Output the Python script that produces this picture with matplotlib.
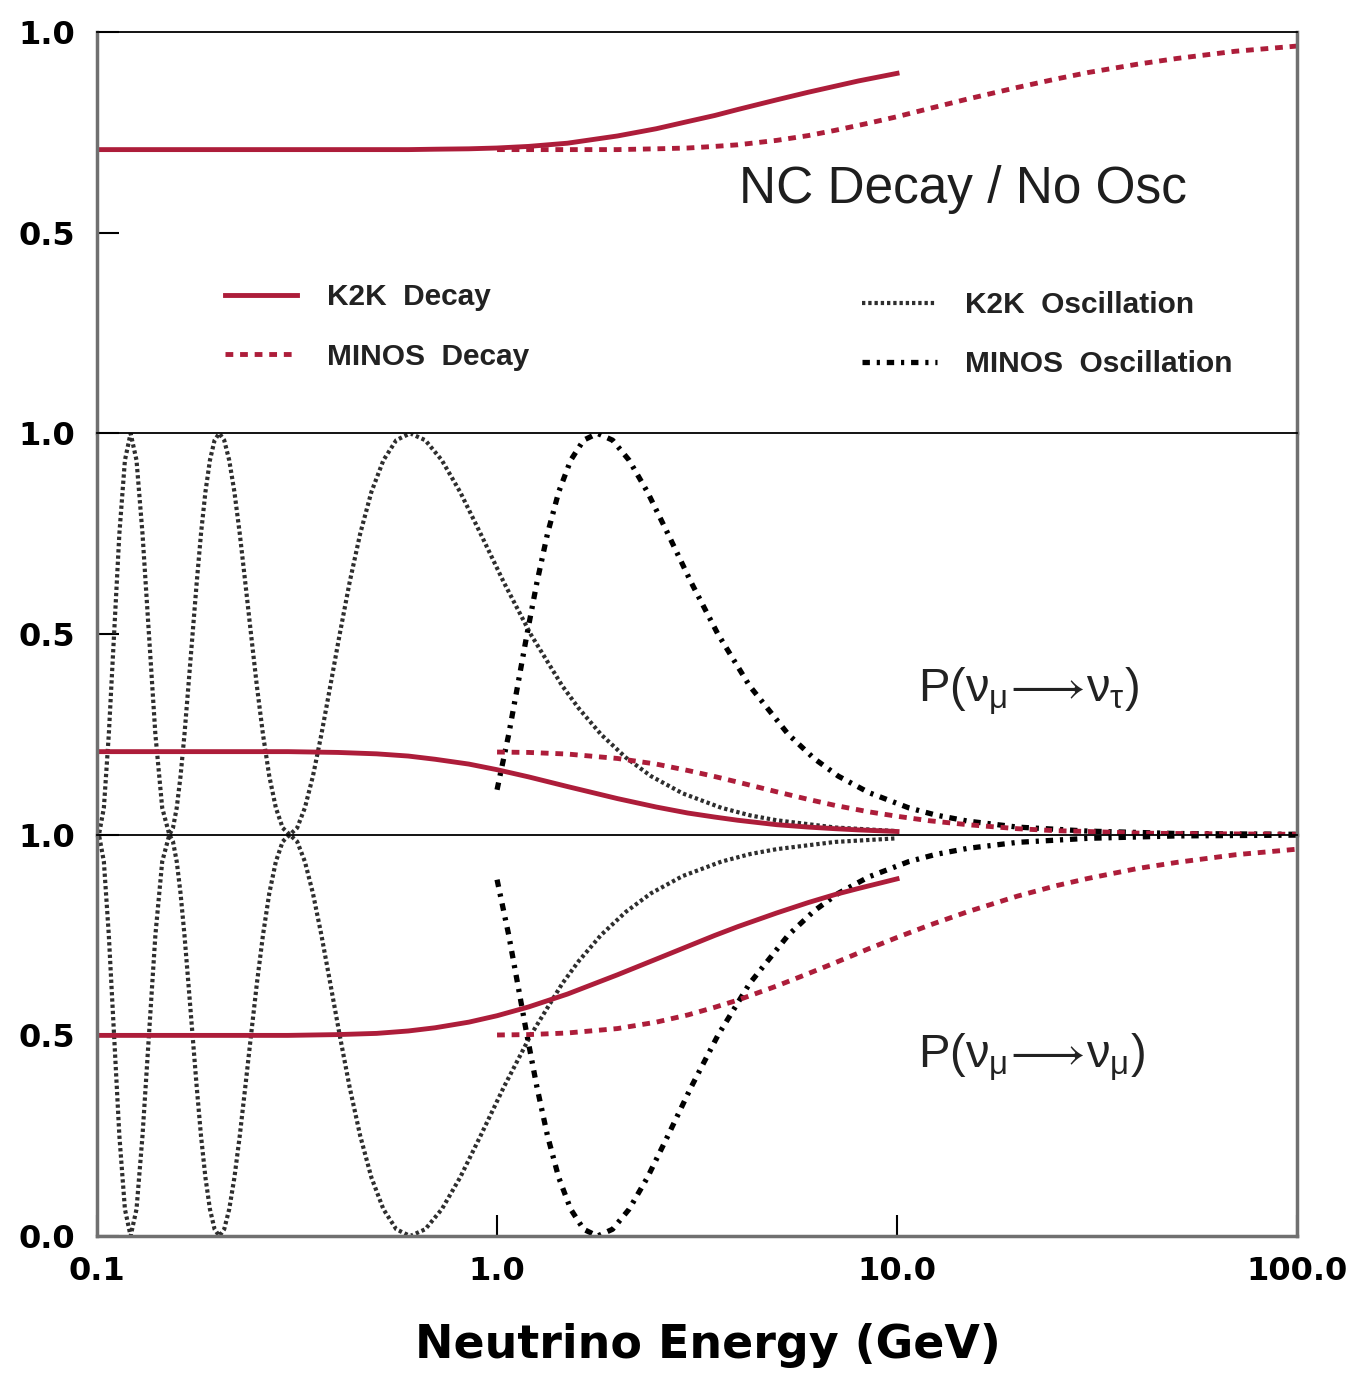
import numpy as np
import matplotlib
matplotlib.use('Agg')
import matplotlib.pyplot as plt
import matplotlib.ticker as ticker
from matplotlib.lines import Line2D

# K2K oscillation (E in GeV)
k2k_osc_e = [0.1000, 0.1011, 0.1040, 0.1070, 0.1103, 0.1137, 0.1174, 0.1213, 0.1255, 0.1299,
             0.1348, 0.1399, 0.1455, 0.1516, 0.1548, 0.1582, 0.1617, 0.1654, 0.1692, 0.1733,
             0.1775, 0.1819, 0.1866, 0.1915, 0.1967, 0.2021, 0.2079, 0.2140, 0.2205, 0.2274,
             0.2347, 0.2426, 0.2509, 0.2599, 0.2695, 0.2799, 0.2911, 0.3032, 0.3164, 0.3308,
             0.3465, 0.3638, 0.3830, 0.4043, 0.4280, 0.4548, 0.4851, 0.5198, 0.5597, 0.6064,
             0.6615, 0.7277, 0.8085, 0.9096, 1.0395, 1.2128, 1.4553, 1.6000, 1.8192, 2.1000,
             2.4255, 2.9106, 3.6383, 4.3000, 5.0, 7.0, 10.0]
k2k_osc_tau = [0.010, 0.000, 0.067, 0.250, 0.500, 0.750, 0.933, 1.000, 0.933, 0.750,
               0.500, 0.250, 0.067, 0.000, 0.017, 0.067, 0.146, 0.250, 0.371, 0.500,
               0.629, 0.750, 0.854, 0.933, 0.983, 1.000, 0.983, 0.933, 0.854, 0.750,
               0.629, 0.500, 0.371, 0.250, 0.146, 0.067, 0.017, 0.000, 0.017, 0.067,
               0.146, 0.250, 0.371, 0.500, 0.629, 0.750, 0.854, 0.933, 0.983, 1.000,
               0.983, 0.933, 0.854, 0.750, 0.629, 0.500, 0.371, 0.315, 0.250, 0.192,
               0.146, 0.103, 0.067, 0.048, 0.036, 0.018, 0.009]
k2k_osc_mu = [0.990, 1.000, 0.933, 0.750, 0.500, 0.250, 0.067, 0.000, 0.067, 0.250,
              0.500, 0.750, 0.933, 1.000, 0.983, 0.933, 0.854, 0.750, 0.629, 0.500,
              0.371, 0.250, 0.146, 0.067, 0.017, 0.000, 0.017, 0.067, 0.146, 0.250,
              0.371, 0.500, 0.629, 0.750, 0.854, 0.933, 0.983, 1.000, 0.983, 0.933,
              0.854, 0.750, 0.629, 0.500, 0.371, 0.250, 0.146, 0.067, 0.017, 0.000,
              0.017, 0.067, 0.146, 0.250, 0.371, 0.500, 0.629, 0.685, 0.750, 0.808,
              0.854, 0.897, 0.933, 0.952, 0.964, 0.982, 0.991]

# MINOS oscillation
minos_osc_e = [1.000, 1.0695, 1.1258, 1.1883, 1.2582, 1.3369, 1.4260, 1.5279, 1.6454, 1.7825,
               1.9445, 2.139, 2.3767, 2.6738, 3.0557, 3.565, 4.278, 5.3475, 6.2, 7.13, 8.5,
               10.695, 12.5, 15.0, 20.0, 30.0, 50.0, 100.0]
minos_osc_tau = [0.112, 0.250, 0.371, 0.500, 0.629, 0.750, 0.854, 0.933, 0.983, 1.000,
                 0.983, 0.933, 0.854, 0.750, 0.629, 0.500, 0.371, 0.250, 0.190, 0.146, 0.105,
                 0.067, 0.049, 0.034, 0.019, 0.009, 0.003, 0.001]
minos_osc_mu = [0.888, 0.750, 0.629, 0.500, 0.371, 0.250, 0.146, 0.067, 0.017, 0.000,
                0.017, 0.067, 0.146, 0.250, 0.371, 0.500, 0.629, 0.750, 0.810, 0.854, 0.895,
                0.933, 0.951, 0.966, 0.981, 0.991, 0.997, 0.999]

# K2K decay
k2k_dec_e = [0.1, 0.2, 0.3, 0.4, 0.5, 0.6, 0.7, 0.85, 1.0, 1.2, 1.5, 2.0, 2.5, 3.0, 3.5,
             4.0, 5.0, 6.0, 7.0, 8.0, 10.0]
k2k_dec_nc = [0.707, 0.707, 0.707, 0.707, 0.707, 0.707, 0.708, 0.709, 0.711, 0.715, 0.723,
              0.741, 0.759, 0.777, 0.792, 0.807, 0.831, 0.850, 0.865, 0.878, 0.897]
k2k_dec_tau = [0.207, 0.207, 0.207, 0.205, 0.2015, 0.196, 0.188, 0.176, 0.162, 0.144, 0.120,
               0.090, 0.069, 0.054, 0.044, 0.036, 0.025, 0.019, 0.015, 0.012, 0.008]
k2k_dec_mu = [0.500, 0.500, 0.500, 0.502, 0.505, 0.511, 0.519, 0.533, 0.549, 0.571, 0.603,
              0.651, 0.690, 0.722, 0.749, 0.771, 0.805, 0.831, 0.851, 0.866, 0.890]

# MINOS decay
minos_dec_e = [1.0, 1.2, 1.5, 2.0, 2.5, 3.0, 3.5, 4.0, 5.0, 6.0, 7.0, 8.5, 10.0, 12.0, 15.0,
               20.0, 25.0, 30.0, 40.0, 50.0, 70.0, 100.0]
minos_dec_nc = [0.707, 0.707, 0.707, 0.707, 0.709, 0.711, 0.715, 0.719, 0.730, 0.742, 0.755,
                0.773, 0.789, 0.809, 0.833, 0.862, 0.883, 0.899, 0.920, 0.934, 0.952, 0.965]
minos_dec_tau = [0.206, 0.205, 0.201, 0.190, 0.176, 0.160, 0.145, 0.131, 0.107, 0.088, 0.073,
                 0.057, 0.046, 0.035, 0.025, 0.015, 0.010, 0.008, 0.004, 0.003, 0.002, 0.001]
minos_dec_mu = [0.501, 0.502, 0.506, 0.517, 0.533, 0.551, 0.570, 0.588, 0.623, 0.654, 0.681,
                0.716, 0.744, 0.774, 0.808, 0.847, 0.873, 0.891, 0.916, 0.931, 0.950, 0.964]

x_ticks = [0.1, 1.0, 10.0, 100.0]
x_tick_labels = ['0.1', '1.0', '10.0', '100.0']

RED = '#ad1d3a'
GREY = '#2e2e2e'
k2k_osc_style = dict(color=GREY, lw=3.0, linestyle=(0, (0.8, 0.7)))
minos_osc_style = dict(color='black', lw=3.8, linestyle=(0, (1.4, 1.3, 0.6, 1.3)))
k2k_dec_style = dict(color=RED, lw=3.5, linestyle='-')
minos_dec_style = dict(color=RED, lw=3.5, linestyle=(0, (1.6, 1.4)))

plt.rcParams['mathtext.fontset'] = 'custom'
plt.rcParams['mathtext.rm'] = 'Liberation Sans'
plt.rcParams['mathtext.it'] = 'Liberation Sans'


def style_axis(ax, yticks, last=False):
  ax.set_xscale('log')
  ax.set_xlim(0.1, 100)
  ax.set_ylim(0, 1)
  ax.xaxis.set_minor_locator(ticker.NullLocator())
  ax.set_yticks(yticks)
  ax.set_yticklabels(['%.1f' % v for v in yticks])
  ax.tick_params(axis='y', direction='in', length=16, width=1.5, pad=16,
                 labelsize=23, right=False)
  for lab in ax.get_yticklabels():
    lab.set_fontweight('bold')
    lab.set_family('DejaVu Sans')
  if last:
    ax.set_xticks(x_ticks)
    ax.set_xticklabels(x_tick_labels)
    ax.tick_params(axis='x', direction='in', length=15, width=1.5, pad=14, labelsize=23)
    for lab in ax.get_xticklabels():
      lab.set_fontweight('bold')
      lab.set_family('DejaVu Sans')
  else:
    ax.set_xticks([])
  for s in ['left', 'right']:
    ax.spines[s].set_color('#707070')
    ax.spines[s].set_linewidth(2.5)
  ax.spines['top'].set_color('black')
  ax.spines['top'].set_linewidth(1.3)
  if last:
    ax.spines['bottom'].set_color('#707070')
    ax.spines['bottom'].set_linewidth(2.5)
  else:
    ax.spines['bottom'].set_visible(False)


def main():
  fig = plt.figure(figsize=(13.48, 13.8), dpi=100)
  left, right, top, bottom = 0.072, 0.9622, 0.9768, 0.1043
  h = (top - bottom) / 3
  ax_nc = fig.add_axes([left, bottom + 2 * h, right - left, h])
  ax_tau = fig.add_axes([left, bottom + h, right - left, h])
  ax_mu = fig.add_axes([left, bottom, right - left, h])

  # top: NC decay / no osc
  ax_nc.plot(k2k_dec_e, k2k_dec_nc, **k2k_dec_style)
  ax_nc.plot(minos_dec_e, minos_dec_nc, **minos_dec_style)
  ax_nc.text(0.7217, 0.607, 'NC Decay / No Osc', transform=ax_nc.transAxes,
             ha='center', va='center', fontsize=37, family='Liberation Sans', color='#1e1e1e')

  h1 = [Line2D([], [], **k2k_dec_style), Line2D([], [], **minos_dec_style)]
  h2 = [Line2D([], [], **k2k_osc_style), Line2D([], [], **minos_osc_style)]
  leg_font = {'family': 'Liberation Sans', 'weight': 'bold', 'size': 21.5}
  leg1 = ax_nc.legend(h1, ['K2K  Decay', 'MINOS  Decay'], loc='center left',
                      bbox_to_anchor=(0.107, 0.265), frameon=False, prop=leg_font,
                      handlelength=2.4, handletextpad=1.0, labelspacing=1.05,
                      borderpad=0, borderaxespad=0)
  for t in leg1.get_texts():
    t.set_color('#222222')
  ax_nc.add_artist(leg1)
  leg2 = ax_nc.legend(h2, ['K2K  Oscillation', 'MINOS  Oscillation'], loc='center left',
                      bbox_to_anchor=(0.6375, 0.246), frameon=False, prop=leg_font,
                      handlelength=2.5, handletextpad=0.95, labelspacing=1.05,
                      borderpad=0, borderaxespad=0)
  for t in leg2.get_texts():
    t.set_color('#222222')

  # middle: P(numu -> nutau)
  ax_tau.plot(k2k_osc_e, k2k_osc_tau, **k2k_osc_style)
  ax_tau.plot(minos_osc_e, minos_osc_tau, **minos_osc_style)
  ax_tau.plot(k2k_dec_e, k2k_dec_tau, **k2k_dec_style)
  ax_tau.plot(minos_dec_e, minos_dec_tau, **minos_dec_style)
  ax_tau.text(0.684, 0.333, r'P($\nu_{\mu}\!\longrightarrow\!\nu_{\tau}$)', transform=ax_tau.transAxes,
              ha='left', va='baseline', fontsize=34, family='Liberation Sans', color='#222222')

  # bottom: P(numu -> numu)
  ax_mu.plot(k2k_osc_e, k2k_osc_mu, **k2k_osc_style)
  ax_mu.plot(minos_osc_e, minos_osc_mu, **minos_osc_style)
  ax_mu.plot(k2k_dec_e, k2k_dec_mu, **k2k_dec_style)
  ax_mu.plot(minos_dec_e, minos_dec_mu, **minos_dec_style)
  ax_mu.text(0.684, 0.42, r'P($\nu_{\mu}\!\longrightarrow\!\nu_{\mu}$)', transform=ax_mu.transAxes,
             ha='left', va='baseline', fontsize=34, family='Liberation Sans', color='#222222')

  style_axis(ax_nc, [0.5, 1.0])
  style_axis(ax_tau, [0.5, 1.0])
  style_axis(ax_mu, [0.0, 0.5, 1.0], last=True)

  fig.text(0.525, 0.025, 'Neutrino Energy (GeV)', ha='center', va='center',
           fontsize=33, fontweight='bold', family='DejaVu Sans')

  fig.savefig('out.png', dpi=100)


if __name__ == "__main__":
  main()
